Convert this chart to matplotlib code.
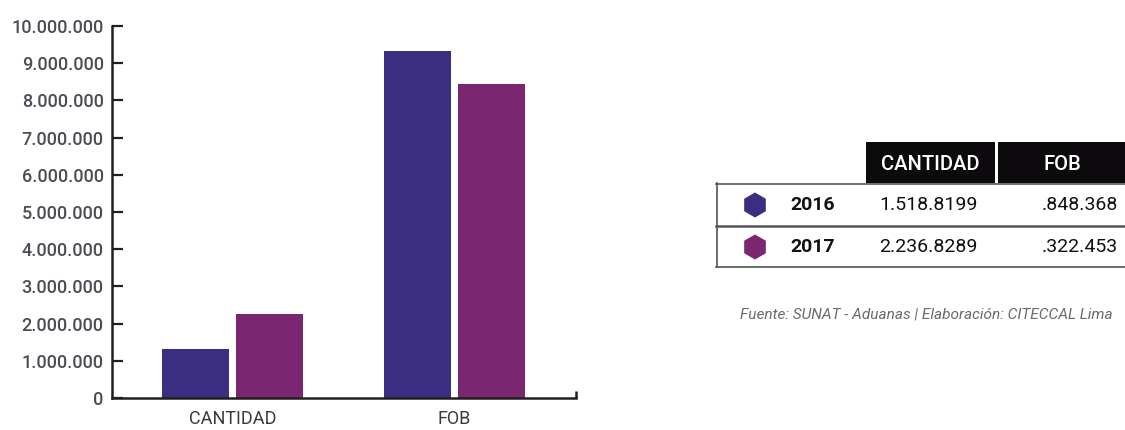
import matplotlib
matplotlib.use("Agg")
import matplotlib.pyplot as plt
from matplotlib.patches import Rectangle, RegularPolygon
import numpy as np

plt.rcParams['font.family'] = ['Roboto', 'DejaVu Sans']

# ---- data ----
categories = ["CANTIDAD", "FOB"]
years = ["2016", "2017"]
values_2016 = [1330000, 9330000]
values_2017 = [2260000, 8450000]
yticks = [0, 1000000, 2000000, 3000000, 4000000, 5000000,
          6000000, 7000000, 8000000, 9000000, 10000000]
ytick_labels = ["0", "1.000.000", "2.000.000", "3.000.000", "4.000.000",
                "5.000.000", "6.000.000", "7.000.000", "8.000.000",
                "9.000.000", "10.000.000"]
table_header = ["CANTIDAD", "FOB"]
table_cantidad = ["1.518.8199", "2.236.8289"]
table_fob = [".848.368", ".322.453"]
footnote = "Fuente: SUNAT - Aduanas | Elaboración: CITECCAL Lima"

colors = ["#3b2d82", "#7a2670"]
axis_color = "#231f20"
tick_color = "#4d4b55"

W, H = 1125, 430
fig = plt.figure(figsize=(W / 100, H / 100), dpi=100)

# ---- bar chart ----
ax = fig.add_axes([112 / W, (H - 398) / H, (576 - 112) / W, (398 - 26) / H])
x = np.arange(len(categories))
bw = 0.302
off = 0.1667
ax.bar(x - off, values_2016, width=bw, color=colors[0], zorder=2)
ax.bar(x + off, values_2017, width=bw, color=colors[1], zorder=2)
ax.set_xlim(-0.543, 1.547)
ax.set_ylim(0, 10000000)
ax.set_yticks(yticks)
ax.set_yticklabels(ytick_labels)
ax.set_xticks(x)
ax.set_xticklabels(categories)
for s in ["top", "right"]:
    ax.spines[s].set_visible(False)
for s in ["left", "bottom"]:
    ax.spines[s].set_color(axis_color)
    ax.spines[s].set_linewidth(1.8)
ax.tick_params(axis="y", direction="in", length=8, width=1.6, color=axis_color,
               labelsize=13, labelcolor=tick_color, pad=6)
ax.tick_params(axis="x", length=0, labelsize=13, labelcolor="#3a3a3f", pad=9)
for lab in ax.get_yticklabels():
    lab.set_fontweight("medium")
# right end mark of x axis
ax.plot([1, 1], [0, 0.018], transform=ax.transAxes, color=axis_color,
        lw=1.8, clip_on=False, solid_capstyle="butt")

# ---- table (pixel coordinates overlay) ----
ov = fig.add_axes([0, 0, 1, 1], facecolor="none")
ov.set_xlim(0, W)
ov.set_ylim(H, 0)
ov.axis("off")

# header boxes
ov.add_patch(Rectangle((866, 142), 995 - 866, 183 - 142, color="#0d0a0e", lw=0))
ov.add_patch(Rectangle((998, 142), 1125 - 998, 183 - 142, color="#0d0a0e", lw=0))
ov.text(930, 164, table_header[0], color="white", fontsize=14.5,
        ha="center", va="center", fontweight="medium")
ov.text(1062, 164, table_header[1], color="white", fontsize=14.5,
        ha="center", va="center", fontweight="medium")

# borders
bc = "#55545a"
ov.plot([716, 1125], [183.5, 183.5], color=bc, lw=1.2)
ov.plot([716, 1125], [226, 226], color=bc, lw=1.8)
ov.plot([716, 1125], [267, 267], color=bc, lw=1.2)
ov.plot([716.5, 716.5], [183, 267], color=bc, lw=1.2)

row_y = [205, 247]
for i in range(2):
    ov.add_patch(RegularPolygon((755, row_y[i]), numVertices=6, radius=12.5,
                                orientation=0, color=colors[i], lw=0))
    ov.text(790, row_y[i], years[i], fontsize=14, fontweight="bold",
            color="#111111", ha="left", va="center")
    ov.text(879, row_y[i], table_cantidad[i], fontsize=14, fontweight="normal",
            color="#111111", ha="left", va="center")
    ov.text(1118, row_y[i], table_fob[i], fontsize=14, fontweight="normal",
            color="#111111", ha="right", va="center")

ov.text(740, 314, footnote, fontsize=11.1, style="italic", fontweight="normal",
        color="#6a6a6e", ha="left", va="center")

fig.savefig("out.png", dpi=100)
